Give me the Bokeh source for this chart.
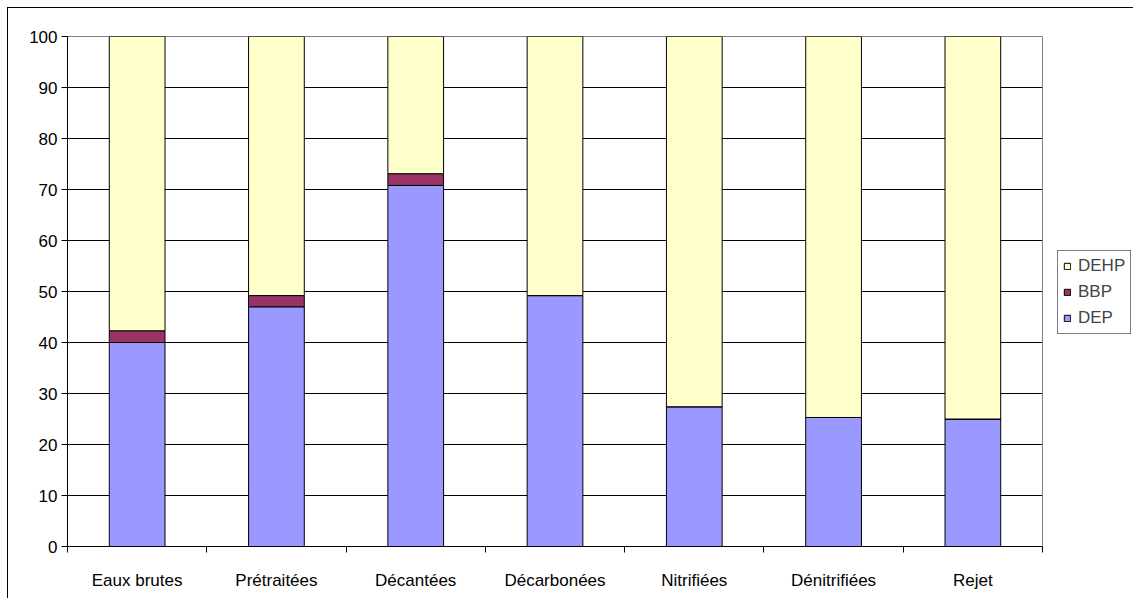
from bokeh.plotting import figure
from bokeh.models import Range1d, FixedTicker, Legend, LegendItem, Span
from bokeh.embed import file_html
from bokeh.resources import INLINE

categories = ["Eaux brutes", "Prétraitées", "Décantées", "Décarbonées", "Nitrifiées", "Dénitrifiées", "Rejet"]
DEP = [40.0, 47.0, 70.8, 49.2, 27.4, 25.3, 25.0]
BBP = [2.3, 2.2, 2.3, 0.0, 0.0, 0.0, 0.0]
DEHP = [57.7, 50.8, 26.9, 50.8, 72.6, 74.7, 75.0]
y_ticks = [0, 10, 20, 30, 40, 50, 60, 70, 80, 90, 100]

n = len(categories)
xs = [i + 0.5 for i in range(n)]
data = dict(x=xs, DEP=DEP, BBP=BBP, DEHP=DEHP)

W, H = 1126, 591
left, top, bottom = 59, 28, 53
plot_w = 975  # pixel width of the category area
x_end = n * (W - left) / plot_w

p = figure(width=W, height=H, output_backend="svg", toolbar_location=None,
           x_range=Range1d(0, x_end), y_range=Range1d(0, 100),
           min_border_left=left, min_border_right=0, min_border_top=top, min_border_bottom=bottom)
p.styles = {"border-left": "1px solid black", "border-top": "1px solid black",
            "margin-left": "7px", "margin-top": "7px"}
p.outline_line_color = None
p.grid.visible = False

# horizontal gridlines over the category area only
p.multi_line(xs=[[0, n] for _ in y_ticks], ys=[[t, t] for t in y_ticks],
             line_color="black", line_width=1)
p.add_layout(Span(location=n, dimension="height", line_color="#808080", line_width=1))

renderers = p.vbar_stack(["DEP", "BBP", "DEHP"], x="x", width=0.4, source=data,
                         fill_color=["#9999FF", "#993366", "#FFFFCC"],
                         line_color="black", line_width=1)

font = "Liberation Sans"
fs = "17px"
p.yaxis.ticker = FixedTicker(ticks=y_ticks)
p.yaxis.major_tick_out = 6
p.yaxis.major_tick_in = 0
p.yaxis.minor_tick_line_color = None
p.yaxis.major_label_text_font = font
p.yaxis.major_label_text_font_size = fs
p.yaxis.major_label_text_color = "black"
p.yaxis.major_label_standoff = 4
p.yaxis.axis_line_color = "black"

p.xaxis.bounds = (0, n)
p.xaxis.ticker = FixedTicker(ticks=xs, minor_ticks=list(range(n + 1)))
p.xaxis.major_label_overrides = {x: c for x, c in zip(xs, categories)}
p.xaxis.major_tick_line_color = None
p.xaxis.major_tick_out = 0
p.xaxis.minor_tick_out = 6
p.xaxis.minor_tick_in = 0
p.xaxis.minor_tick_line_color = "black"
p.xaxis.major_label_text_font = font
p.xaxis.major_label_text_font_size = fs
p.xaxis.major_label_text_color = "black"
p.xaxis.major_label_standoff = 18
p.xaxis.axis_line_color = "black"

items = [LegendItem(label=nm, renderers=[r]) for nm, r in zip(["DEP", "BBP", "DEHP"], renderers)]
legend = Legend(items=items[::-1], location=(990, 212),
                glyph_width=8, glyph_height=8, label_height=18, spacing=6, padding=5,
                label_standoff=7, label_text_font=font, label_text_font_size=fs,
                border_line_color="black", border_line_width=1, background_fill_alpha=1,
                margin=0)
p.add_layout(legend)

open("out.html", "w").write(file_html(p, INLINE))
